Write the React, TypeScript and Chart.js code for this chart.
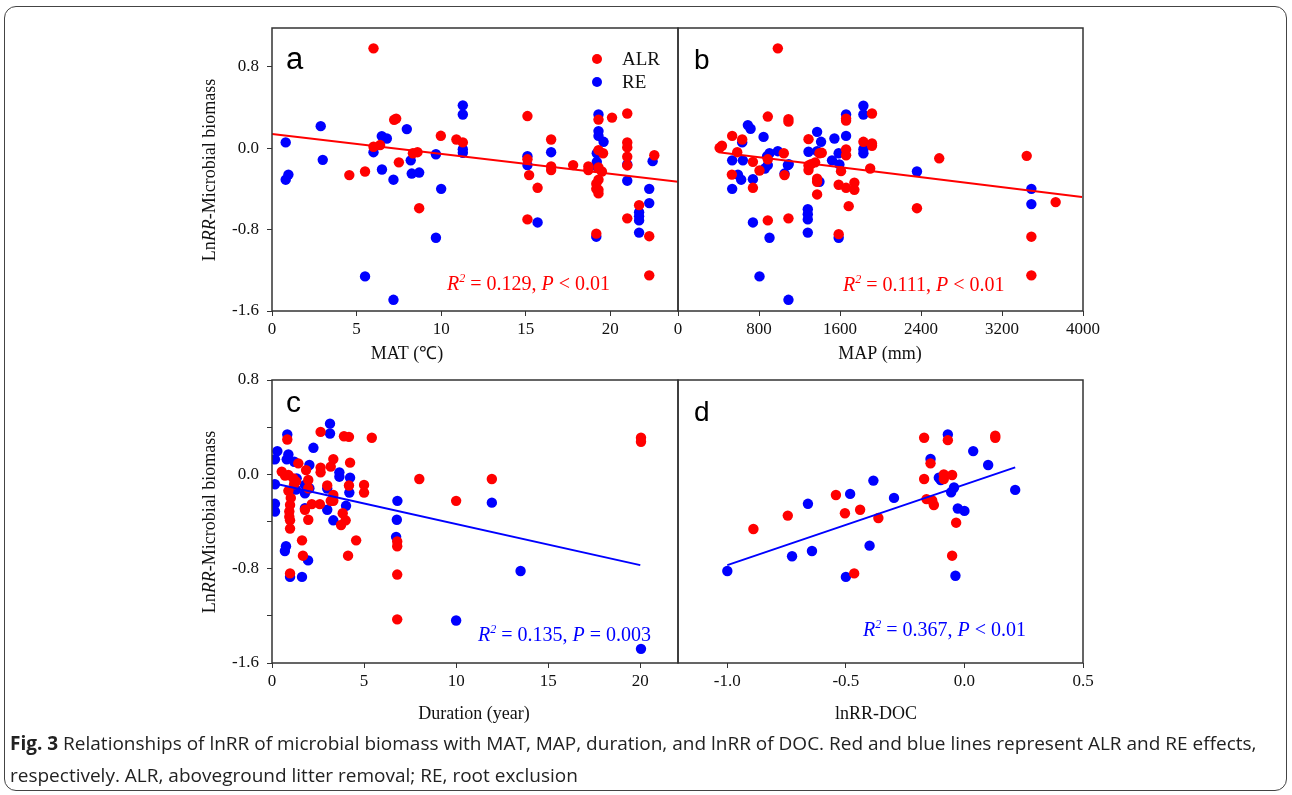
import React, { useEffect, useRef } from 'react';
import { Chart, registerables } from 'chart.js';
Chart.register(...registerables);

type Pt = [number, number];

const W = 1292;
const H = 795;
const SERIF = '"Liberation Serif", "Times New Roman", serif';
const SANS = '"Liberation Sans", Arial, sans-serif';
const RED = '#ff0000';
const BLUE = '#0000ff';

// ---------- Panel a: MAT (°C) ----------
const matALR: Pt[] = [
  [6.0, 0.98], [6.0, 0.013], [6.39, 0.03], [7.22, 0.278], [7.34, 0.29], [9.98, 0.121], [10.9, 0.085],
  [11.28, 0.056], [7.5, -0.14], [8.33, -0.05], [8.6, -0.04], [5.5, -0.23], [4.57, -0.265], [8.7, -0.59],
  [15.1, 0.315], [16.5, 0.085], [15.1, -0.11], [16.5, -0.18], [17.8, -0.167], [18.7, -0.18], [19.3, 0.28],
  [20.1, 0.3], [21.0, 0.34], [19.3, -0.02], [19.57, -0.05], [21.0, 0.056], [21.0, 0.007], [21.0, -0.085],
  [22.6, -0.07], [19.3, -0.19], [15.2, -0.265], [15.7, -0.39], [16.5, -0.216], [18.7, -0.216], [19.5, -0.23],
  [19.3, -0.31], [19.17, -0.35], [19.3, -0.41], [19.17, -0.4], [19.3, -0.445], [21.7, -0.56], [21.0, -0.69],
  [22.3, -0.865], [15.1, -0.7], [19.17, -0.84], [22.3, -1.25], [21.0, -0.17],
];
const matRE: Pt[] = [
  [0.81, 0.056], [2.88, 0.216], [3.0, -0.115], [6.49, 0.118], [6.79, 0.095], [7.97, 0.187], [11.28, 0.42],
  [11.28, 0.33], [11.28, -0.01], [11.28, -0.046], [6.0, -0.04], [8.2, -0.12], [9.69, -0.06], [6.5, -0.21],
  [0.81, -0.31], [0.97, -0.26], [7.18, -0.31], [8.26, -0.25], [8.7, -0.24], [10.0, -0.4], [9.69, -0.88],
  [5.5, -1.26], [7.18, -1.49], [16.5, -0.04], [15.1, -0.08], [15.1, -0.167], [19.3, 0.33], [19.3, 0.167],
  [19.3, 0.12], [19.6, 0.062], [19.2, -0.05], [21.0, -0.16], [22.5, -0.128], [19.2, -0.135], [19.2, -0.18],
  [21.0, -0.32], [22.3, -0.4], [22.3, -0.54], [21.7, -0.63], [21.7, -0.67], [21.7, -0.71], [21.7, -0.83],
  [15.7, -0.73], [19.17, -0.87],
];
const matFit: Pt[] = [[0, 0.14], [24, -0.33]];
const matTicks = [0, 5, 10, 15, 20];

// ---------- Panel b: MAP (mm) ----------
const mapALR: Pt[] = [
  [986, 0.98], [411, 0.003], [434, 0.023], [535, 0.12], [634, 0.085], [887, 0.31], [1091, 0.285], [1091, 0.26],
  [585, -0.04], [740, -0.135], [887, -0.11], [1045, -0.05], [805, -0.22], [1289, 0.088], [1397, -0.05],
  [1420, -0.046], [1289, -0.17], [1314, -0.157], [1354, -0.14], [1660, 0.29], [1660, 0.27], [1660, -0.013],
  [1660, -0.07], [1916, 0.34], [1831, 0.062], [1916, 0.046], [1916, 0.023], [1898, -0.2], [532, -0.26],
  [740, -0.39], [1052, -0.265], [1289, -0.216], [1374, -0.3], [1374, -0.33], [1374, -0.455], [1587, -0.36],
  [1660, -0.39], [1742, -0.34], [1742, -0.41], [1610, -0.226], [1686, -0.57], [887, -0.71], [1091, -0.69],
  [1587, -0.845], [2360, -0.59], [2580, -0.1], [3444, -0.076], [3730, -0.53], [3490, -0.87], [3490, -1.25],
];
const mapRE: Pt[] = [
  [634, 0.056], [690, 0.226], [717, 0.19], [845, 0.11], [535, -0.12], [641, -0.12], [904, -0.05], [880, -0.08],
  [986, -0.03], [1094, -0.157], [858, -0.2], [1374, 0.16], [1413, 0.062], [1289, -0.036], [1374, -0.03],
  [1521, -0.12], [1545, 0.095], [1660, 0.12], [1660, 0.33], [1587, -0.05], [1594, -0.16], [1831, 0.416],
  [1831, 0.33], [1831, -0.01], [1831, -0.05], [592, -0.26], [624, -0.31], [535, -0.4], [740, -0.305],
  [887, -0.167], [1052, -0.25], [1085, -0.167], [1397, -0.33], [740, -0.73], [1282, -0.6], [1282, -0.65],
  [1282, -0.7], [904, -0.88], [1282, -0.83], [1587, -0.88], [805, -1.26], [1091, -1.49], [2360, -0.23],
  [3490, -0.4], [3490, -0.55],
];
const mapFit: Pt[] = [[400, -0.04], [3990, -0.48]];
const mapTicks = [0, 800, 1600, 2400, 3200, 4000];

// ---------- Panel c: Duration (year) ----------
const durALR: Pt[] = [
  [0.83, 0.295], [2.64, 0.36], [3.91, 0.323], [4.18, 0.318], [5.42, 0.31], [1.43, 0.093], [1.85, 0.036],
  [3.33, 0.129], [3.19, 0.065], [2.64, 0.057], [2.64, 0.017], [4.24, 0.099], [4.18, -0.095], [5.0, -0.09],
  [5.0, -0.155], [8.0, -0.04], [10.0, -0.225], [0.53, 0.023], [0.71, -0.011], [0.89, -0.006], [1.16, -0.034],
  [1.3, -0.06], [1.2, -0.084], [0.89, -0.14], [1.02, -0.2], [0.98, -0.26], [0.94, -0.315], [1.97, -0.048],
  [1.97, -0.118], [3.0, -0.095], [3.33, -0.175], [3.33, -0.225], [2.16, -0.253], [2.6, -0.253], [3.19, -0.225],
  [1.79, -0.3], [3.84, -0.33], [0.94, -0.36], [0.98, -0.39], [1.97, -0.385], [1.63, -0.56], [1.68, -0.69],
  [0.98, -0.84], [0.98, -0.46], [4.13, -0.69], [4.57, -0.56], [3.75, -0.43], [4.0, -0.39], [6.8, -0.85],
  [6.8, -0.57], [6.8, -0.61], [6.8, -1.23], [11.94, -0.04], [20.04, 0.31], [20.04, 0.276],
];
const durRE: Pt[] = [
  [3.15, 0.43], [3.15, 0.346], [0.83, 0.338], [0.29, 0.197], [0.16, 0.127], [0.89, 0.169], [0.8, 0.127],
  [1.21, 0.107], [2.25, 0.225], [2.03, 0.079], [3.66, 0.017], [3.66, -0.02], [4.24, -0.028], [4.2, -0.155],
  [6.81, -0.225], [0.16, -0.084], [1.34, -0.034], [1.79, -0.09], [2.03, -0.118], [1.3, -0.13], [1.79, -0.16],
  [3.0, -0.12], [4.02, -0.267], [0.16, -0.25], [0.16, -0.315], [1.79, -0.287], [3.0, -0.3], [6.78, -0.385],
  [3.33, -0.39], [0.98, -0.87], [1.63, -0.87], [1.96, -0.73], [0.76, -0.61], [0.7, -0.65], [6.74, -0.53],
  [10.0, -1.24], [13.5, -0.82], [11.94, -0.24], [20.04, -1.48],
];
const durFit: Pt[] = [[0.2, -0.08], [20, -0.77]];
const durTicks = [0, 5, 10, 15, 20];

// ---------- Panel d: lnRR-DOC ----------
const docALR: Pt[] = [
  [-0.89, -0.464], [-0.745, -0.35], [-0.542, -0.175], [-0.504, -0.33], [-0.44, -0.3], [-0.465, -0.84],
  [-0.363, -0.37], [-0.17, 0.31], [-0.07, 0.29], [-0.143, 0.093], [-0.17, -0.04], [-0.087, 0.0],
  [-0.087, -0.04], [-0.052, -0.006], [-0.16, -0.21], [-0.136, -0.222], [-0.129, -0.26], [-0.035, -0.41],
  [-0.052, -0.69], [0.13, 0.327], [0.13, 0.31],
];
const docRE: Pt[] = [
  [-1.0, -0.82], [-0.727, -0.695], [-0.66, -0.25], [-0.643, -0.65], [-0.482, -0.166], [-0.5, -0.87],
  [-0.384, -0.053], [-0.4, -0.605], [-0.297, -0.2], [-0.07, 0.338], [-0.143, 0.13], [-0.108, -0.028],
  [-0.1, -0.048], [-0.044, -0.112], [-0.056, -0.152], [-0.028, -0.29], [0.0, -0.31], [-0.038, -0.86],
  [0.037, 0.197], [0.1, 0.079], [0.214, -0.132],
];
const docFit: Pt[] = [[-1.0, -0.77], [0.214, 0.059]];
const docTicks = [-1.0, -0.5, 0.0, 0.5];

const yTicksTop = [-1.6, -0.8, 0.0, 0.8];
const yTicksBottom = [-1.6, -1.2, -0.8, -0.4, 0.0, 0.4, 0.8];

type Seg = { t: string; i?: boolean; sup?: boolean };

function drawRich(ctx: CanvasRenderingContext2D, segs: Seg[], x: number, y: number, size: number, color: string, center: boolean) {
  const font = (s: Seg) => `${s.i ? 'italic ' : ''}${s.sup ? Math.round(size * 0.62) : size}px ${SERIF}`;
  let total = 0;
  for (const s of segs) { ctx.font = font(s); total += ctx.measureText(s.t).width; }
  let cx = center ? x - total / 2 : x;
  ctx.fillStyle = color;
  ctx.textAlign = 'left';
  ctx.textBaseline = 'alphabetic';
  for (const s of segs) {
    ctx.font = font(s);
    ctx.fillText(s.t, cx, s.sup ? y - size * 0.4 : y);
    cx += ctx.measureText(s.t).width;
  }
}

interface PanelSpec {
  area: { l: number; t: number; r: number; b: number };
  xMin: number; xMax: number; xTicks: number[]; xFmt: (v: number) => string;
  yMin: number; yMax: number; yTicks: number[]; showY: boolean;
  alr: Pt[]; re: Pt[]; fit: Pt[]; fitColor: string;
  letter: { text: string; x: number; y: number; size: number };
  stat: { segs: Seg[]; x: number; y: number; color: string };
  xTitle: { text: string; x: number; y: number };
  yTitle?: { x: number; y: number };
  legend?: boolean;
}

const fmt1 = (v: number) => (Math.abs(v) < 1e-9 ? 0 : v).toFixed(1);
const isMajor = (v: number) => Math.abs(Math.round(v / 0.8) * 0.8 - v) < 1e-6;

const YAW = 60;
const XAH = 30;

const panels: PanelSpec[] = [
  {
    area: { l: 272, t: 28, r: 678, b: 311 },
    xMin: 0, xMax: 24, xTicks: matTicks, xFmt: (v) => String(v),
    yMin: -1.6, yMax: 1.18, yTicks: yTicksTop, showY: true,
    alr: matALR, re: matRE, fit: matFit, fitColor: RED,
    letter: { text: 'a', x: 286, y: 69, size: 31 },
    stat: { segs: [{ t: 'R', i: true }, { t: '2', i: true, sup: true }, { t: ' = 0.129, ' }, { t: 'P', i: true }, { t: ' < 0.01' }], x: 447, y: 290, color: RED },
    xTitle: { text: 'MAT (℃)', x: 407, y: 359 },
    yTitle: { x: 215, y: 170 },
    legend: true,
  },
  {
    area: { l: 678, t: 28, r: 1083, b: 311 },
    xMin: 0, xMax: 4000, xTicks: mapTicks, xFmt: (v) => String(v),
    yMin: -1.6, yMax: 1.18, yTicks: yTicksTop, showY: false,
    alr: mapALR, re: mapRE, fit: mapFit, fitColor: RED,
    letter: { text: 'b', x: 694, y: 69, size: 28 },
    stat: { segs: [{ t: 'R', i: true }, { t: '2', i: true, sup: true }, { t: ' = 0.111, ' }, { t: 'P', i: true }, { t: ' < 0.01' }], x: 843, y: 291, color: RED },
    xTitle: { text: 'MAP (mm)', x: 880, y: 359 },
  },
  {
    area: { l: 272, t: 380, r: 678, b: 663 },
    xMin: 0, xMax: 22.05, xTicks: durTicks, xFmt: (v) => String(v),
    yMin: -1.6, yMax: 0.8, yTicks: yTicksBottom, showY: true,
    alr: durALR, re: durRE, fit: durFit, fitColor: BLUE,
    letter: { text: 'c', x: 286, y: 412, size: 30 },
    stat: { segs: [{ t: 'R', i: true }, { t: '2', i: true, sup: true }, { t: ' = 0.135, ' }, { t: 'P', i: true }, { t: ' = 0.003' }], x: 478, y: 641, color: BLUE },
    xTitle: { text: 'Duration (year)', x: 474, y: 719 },
    yTitle: { x: 215, y: 522 },
  },
  {
    area: { l: 678, t: 380, r: 1083, b: 663 },
    xMin: -1.208, xMax: 0.5, xTicks: docTicks, xFmt: fmt1,
    yMin: -1.6, yMax: 0.8, yTicks: yTicksBottom, showY: false,
    alr: docALR, re: docRE, fit: docFit, fitColor: BLUE,
    letter: { text: 'd', x: 694, y: 421, size: 28 },
    stat: { segs: [{ t: 'R', i: true }, { t: '2', i: true, sup: true }, { t: ' = 0.367, ' }, { t: 'P', i: true }, { t: ' < 0.01' }], x: 863, y: 636, color: BLUE },
    xTitle: { text: 'lnRR-DOC', x: 876, y: 719 },
  },
];

function makeConfig(p: PanelSpec): any {
  const tickFont = { family: SERIF, size: 17 };
  const decor = {
    id: 'decor',
    afterDraw(chart: any) {
      const ctx: CanvasRenderingContext2D = chart.ctx;
      const a = chart.chartArea;
      ctx.save();
      ctx.strokeStyle = '#333';
      ctx.lineWidth = 1.5;
      ctx.strokeRect(a.left, a.top, a.right - a.left, a.bottom - a.top);
      ctx.fillStyle = '#000';
      ctx.font = `${p.letter.size}px ${SANS}`;
      ctx.textAlign = 'left';
      ctx.textBaseline = 'alphabetic';
      ctx.fillText(p.letter.text, p.letter.x, p.letter.y);
      drawRich(ctx, p.stat.segs, p.stat.x, p.stat.y, 20, p.stat.color, false);
      ctx.fillStyle = '#111';
      ctx.font = `18px ${SERIF}`;
      ctx.textAlign = 'center';
      ctx.fillText(p.xTitle.text, p.xTitle.x, p.xTitle.y);
      if (p.yTitle) {
        ctx.save();
        ctx.translate(p.yTitle.x, p.yTitle.y);
        ctx.rotate(-Math.PI / 2);
        drawRich(ctx, [{ t: 'Ln' }, { t: 'RR', i: true }, { t: '-Microbial biomass' }], 0, 0, 18, '#111', true);
        ctx.restore();
      }
      if (p.legend) {
        const items = [{ label: 'ALR', color: RED, y: 59 }, { label: 'RE', color: BLUE, y: 82 }];
        for (const it of items) {
          ctx.beginPath();
          ctx.fillStyle = it.color;
          ctx.arc(597, it.y, 5, 0, Math.PI * 2);
          ctx.fill();
          ctx.fillStyle = '#111';
          ctx.font = `19px ${SERIF}`;
          ctx.textAlign = 'left';
          ctx.textBaseline = 'middle';
          ctx.fillText(it.label, 622, it.y + 1);
        }
      }
      ctx.restore();
    },
  };
  const pts = (arr: Pt[]) => arr.map(([x, y]) => ({ x, y }));
  return {
    type: 'scatter',
    data: {
      datasets: [
        { type: 'line', label: 'fit', data: pts(p.fit), borderColor: p.fitColor, borderWidth: 2, pointRadius: 0, showLine: true, fill: false, order: 0 },
        { label: 'ALR', data: pts(p.alr), backgroundColor: RED, borderWidth: 0, pointRadius: 5.2, order: 1 },
        { label: 'RE', data: pts(p.re), backgroundColor: BLUE, borderWidth: 0, pointRadius: 5.2, order: 2 },
      ],
    },
    options: {
      responsive: false,
      animation: false,
      events: [],
      layout: {
        padding: {
          left: p.showY ? p.area.l - YAW : p.area.l,
          right: W - p.area.r,
          top: p.area.t,
          bottom: H - p.area.b - XAH,
        },
      },
      plugins: { legend: { display: false }, tooltip: { enabled: false } },
      scales: {
        x: {
          type: 'linear',
          min: p.xMin,
          max: p.xMax,
          afterBuildTicks: (s: any) => { s.ticks = p.xTicks.map((v) => ({ value: v })); },
          afterFit: (s: any) => { s.height = XAH; },
          ticks: { font: tickFont, color: '#111', padding: 3, maxRotation: 0, autoSkip: false, callback: (v: any) => p.xFmt(Number(v)) },
          grid: { display: true, drawOnChartArea: false, drawTicks: true, tickLength: 5, color: '#333', lineWidth: 1 },
          border: { display: false },
        },
        y: {
          type: 'linear',
          display: p.showY,
          min: p.yMin,
          max: p.yMax,
          afterBuildTicks: (s: any) => { s.ticks = p.yTicks.map((v) => ({ value: v })); },
          afterFit: (s: any) => { s.width = p.showY ? YAW : 0; },
          ticks: { font: tickFont, color: '#111', padding: 8, autoSkip: false, callback: (v: any) => (isMajor(Number(v)) ? fmt1(Number(v)) : '') },
          grid: { display: true, drawOnChartArea: false, drawTicks: true, tickLength: 5, color: '#333', lineWidth: 1 },
          border: { display: false },
        },
      },
    },
    plugins: [decor],
  };
}

function PanelCanvas({ spec }: { spec: PanelSpec }) {
  const ref = useRef<HTMLCanvasElement | null>(null);
  useEffect(() => {
    if (!ref.current) return;
    const chart = new Chart(ref.current, makeConfig(spec));
    return () => chart.destroy();
  }, [spec]);
  return <canvas ref={ref} width={W} height={H} style={{ position: 'absolute', left: 0, top: 0, width: W, height: H }} />;
}

export default function App() {
  return (
    <div style={{ position: 'absolute', left: 0, top: 0, width: W, height: H, background: '#fff', overflow: 'hidden' }}>
      <div style={{ position: 'absolute', left: 4, top: 6, width: 1283, height: 785, border: '1px solid #444', borderRadius: 12, boxSizing: 'border-box' }} />
      {panels.map((p, i) => (
        <PanelCanvas key={i} spec={p} />
      ))}
      <div
        style={{
          position: 'absolute', left: 10, top: 727, width: 1280, fontFamily: '"Open Sans", "Noto Sans", sans-serif',
          fontSize: 19, lineHeight: '32px', color: '#222', whiteSpace: 'nowrap',
        }}
      >
        <b>Fig. 3</b> Relationships of lnRR of microbial biomass with MAT, MAP, duration, and lnRR of DOC. Red and blue lines represent ALR and RE effects,
        <br />
        respectively. ALR, aboveground litter removal; RE, root exclusion
      </div>
    </div>
  );
}
